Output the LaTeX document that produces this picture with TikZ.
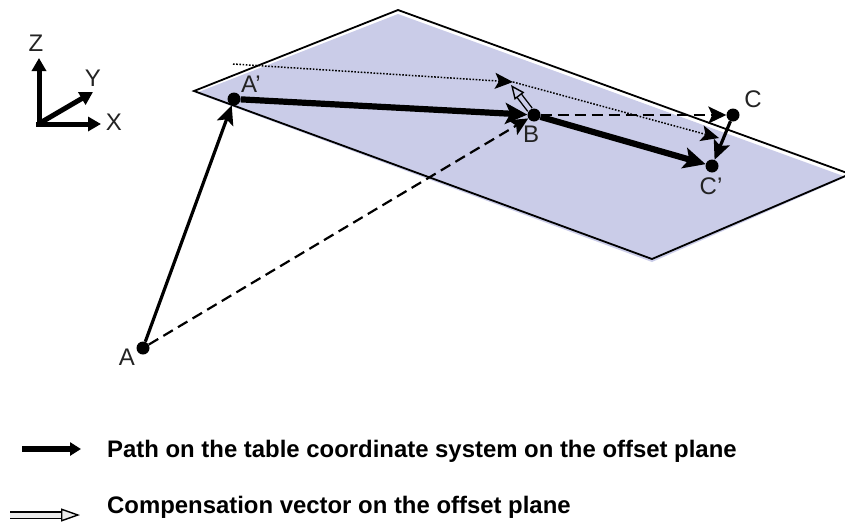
\documentclass[tikz,border=0pt]{standalone}
\usepackage{fontspec}
\setmainfont{Liberation Sans}
\usetikzlibrary{arrows.meta}
\definecolor{planefill}{RGB}{202,204,232}
\definecolor{labelcol}{RGB}{35,35,35}
\tikzset{
  dotnode/.style={circle,fill=black,inner sep=0pt,minimum size=#1},
  lab/.style={text=labelcol,font=\fontsize{24}{26}\selectfont,inner sep=0pt},
  legendtext/.style={font=\bfseries\fontsize{23.9}{26}\selectfont,anchor=base west,inner sep=0pt},
  axis/.style={line width=5pt,-{Triangle[length=13pt,width=14pt]}},
  thickpath/.style={line width=6.2pt,-{Stealth[length=22pt,width=21pt,inset=5pt]}},
  thinpath/.style={line width=3.2pt,-{Stealth[length=19pt,width=17pt,inset=4pt]}},
  dashpath/.style={line width=2.2pt,dash pattern=on 11pt off 6pt,-{Stealth[length=18pt,width=17pt,inset=4pt]}},
  dotpath/.style={line width=1.5pt,dash pattern=on 1.6pt off 1.6pt,-{Stealth[length=18pt,width=16pt,inset=4pt]}},
  comp/.style={double=planefill,double distance=4pt,line width=1.4pt,-{Triangle[open,length=14pt,width=12pt,fill=planefill]}},
  complegend/.style={double=black!8,double distance=5pt,line width=1.4pt,-{Triangle[open,length=19pt,width=13pt,fill=black!8]}},
}
\begin{document}
\begin{tikzpicture}[x=1pt,y=-1pt]
\useasboundingbox (0,0) rectangle (845,525);
% plane
\fill[planefill] (196,93) -- (398,14) -- (846,177) -- (652,262) -- cycle;
\begin{scope}
\clip (0,0) rectangle (845,525);
\draw[line width=1.8pt,line join=miter] (194,91) -- (398,10) -- (850,174) -- (652,259) -- cycle;
\end{scope}
% points
\node[dotnode=13pt] (A) at (143,348) {};
\node[dotnode=13pt] (Ap) at (234,99) {};
\node[dotnode=13pt] (B) at (534,115) {};
\node[dotnode=13pt] (C) at (733,115) {};
\node[dotnode=13pt] (Cp) at (712,166) {};
\coordinate (D0) at (233,64);
\coordinate (D1) at (513,82);
\coordinate (D2) at (719,138);
\coordinate (E) at (511,85);
\coordinate (OZa) at (39,126);
\coordinate (OXa) at (36,124);
\coordinate (OYa) at (40,123);
\coordinate (OZ) at (39,58);
\coordinate (OX) at (101,124);
\coordinate (OY) at (93,92);
% labels
\node[lab] (lA) at (127,357) {A};
\node[lab] (lAp) at (251,84) {A’};
\node[lab] (lB) at (531,134) {B};
\node[lab] (lC) at (753,99) {C};
\node[lab] (lCp) at (711,186) {C’};
\node[lab] (lZ) at (36,43) {Z};
\node[lab] (lY) at (93,78) {Y};
\node[lab] (lX) at (114,122) {X};
% axes
\draw[axis] (OZa) -- (OZ);
\draw[axis] (OXa) -- (OX);
\draw[axis] (OYa) -- (OY);
% paths
\draw[dotpath] (D0) -- (D1);
\draw[dotpath] (D1) -- (D2);
\draw[dashpath] (A) -- (B);
\draw[dashpath] (B) -- (C);
\draw[thinpath] (A) -- (Ap);
\draw[thinpath] (C) -- (Cp);
\draw[thickpath] (Ap) -- (B);
\draw[thickpath] (B) -- (Cp);
\draw[comp] (B) -- (E);
% legend
\coordinate (L1a) at (22,449);
\coordinate (L1b) at (81,449);
\coordinate (L2a) at (10,515);
\coordinate (L2b) at (80,515);
\draw[line width=6pt,-{Triangle[length=11pt,width=13pt]}] (L1a) -- (L1b);
\draw[complegend] (L2a) -- (L2b);
\node[legendtext] (t1) at (107,457) {Path on the table coordinate system on the offset plane};
\node[legendtext] (t2) at (107,513) {Compensation vector on the offset plane};
\end{tikzpicture}
\end{document}
